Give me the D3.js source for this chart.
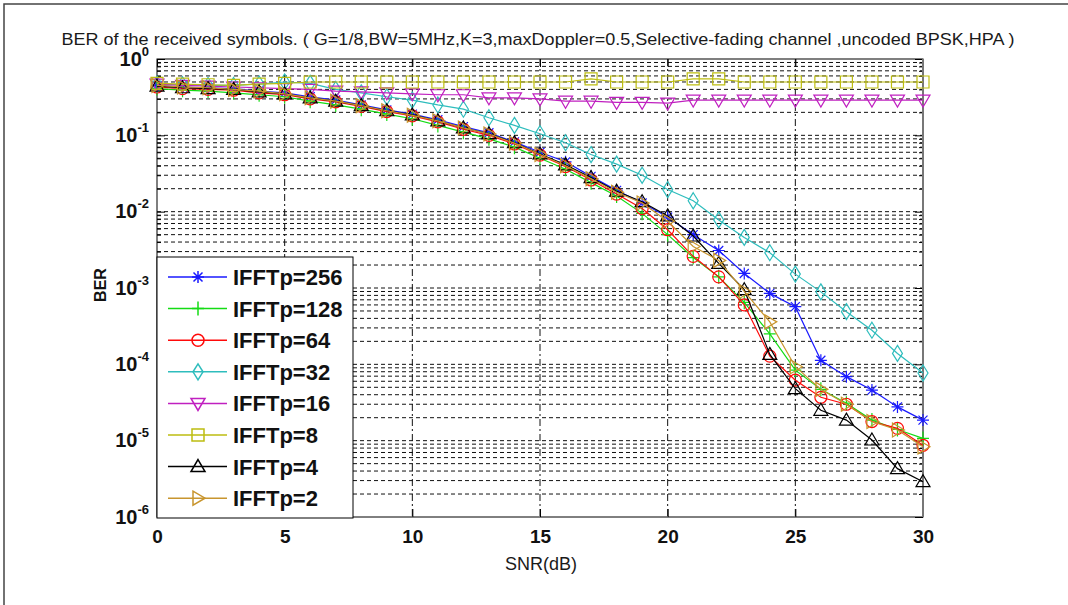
<!DOCTYPE html>
<html lang="en">
<head>
<meta charset="UTF-8">
<title>BER of the received symbols</title>
<style>
    body { margin: 0; background: #fff; }
    .tick_label { font-family: "Liberation Sans", Arial, sans-serif; font-weight: bold; font-size: 19px; fill: #111; }
    .legend_text { font-family: "Liberation Sans", Arial, sans-serif; font-weight: bold; font-size: 22px; fill: #111; }
</style>
<script src="https://cdn.jsdelivr.net/npm/d3@7"></script>
</head>
<body>
<svg width="1068" height="605"></svg>
<script>

    // SNR values on the x axis (dB)
    const snr = [0,1,2,3,4,5,6,7,8,9,10,11,12,13,14,15,16,17,18,19,20,21,22,23,24,25,26,27,28,29,30];

    // BER, one array per IFFT size
    const ber256 = [0.45,0.43,0.42,0.41,0.38,0.36,0.32,0.29,0.25,0.215,0.19,0.16,0.13,0.108,0.082,0.06,0.045,0.029,0.019,0.013,0.0085,0.005,0.0031,0.00155,0.00085,0.00057,0.000113,0.000069,0.000046,0.0000277,0.0000186];
    const ber128 = [0.41,0.39,0.38,0.36,0.34,0.32,0.28,0.25,0.22,0.19,0.165,0.135,0.11,0.09,0.07,0.05,0.036,0.024,0.016,0.0095,0.005,0.0025,0.0014,0.00065,0.00025,0.000084,0.000047,0.000031,0.0000186,0.000014,0.0000107];
    const ber64  = [0.43,0.41,0.40,0.39,0.36,0.34,0.30,0.275,0.24,0.205,0.18,0.15,0.12,0.1,0.077,0.055,0.039,0.026,0.017,0.011,0.0058,0.0026,0.0014,0.0006,0.000128,0.000062,0.000037,0.00003,0.0000178,0.0000145,0.0000087];
    const ber32  = [0.47,0.46,0.45,0.45,0.47,0.5,0.48,0.4,0.36,0.32,0.29,0.25,0.22,0.17,0.135,0.105,0.08,0.056,0.042,0.03,0.0195,0.0139,0.0078,0.0046,0.0029,0.00152,0.00089,0.00049,0.00028,0.000139,0.000077];
    const ber16  = [0.47,0.45,0.44,0.43,0.42,0.41,0.40,0.38,0.37,0.36,0.35,0.34,0.34,0.31,0.31,0.30,0.28,0.28,0.27,0.27,0.265,0.29,0.29,0.29,0.29,0.29,0.29,0.29,0.29,0.29,0.29];
    const ber8   = [0.48,0.47,0.46,0.45,0.47,0.48,0.5,0.5,0.5,0.5,0.5,0.5,0.5,0.5,0.5,0.5,0.5,0.55,0.5,0.5,0.5,0.55,0.55,0.5,0.5,0.5,0.5,0.5,0.5,0.5,0.5];
    const ber4   = [0.44,0.42,0.41,0.40,0.37,0.35,0.31,0.28,0.245,0.21,0.185,0.155,0.125,0.105,0.08,0.057,0.041,0.028,0.0185,0.0135,0.0088,0.0048,0.0021,0.00095,0.000135,0.000048,0.000025,0.0000186,0.0000102,0.0000043,0.0000029];
    const ber2   = [0.45,0.43,0.42,0.40,0.38,0.35,0.31,0.28,0.245,0.21,0.183,0.155,0.125,0.104,0.079,0.056,0.04,0.027,0.018,0.013,0.0075,0.0035,0.0023,0.0009,0.00036,0.000093,0.000047,0.00003,0.0000178,0.0000138,0.0000083];

    const seriesNames = ["IFFTp=256","IFFTp=128","IFFTp=64","IFFTp=32","IFFTp=16","IFFTp=8","IFFTp=4","IFFTp=2"];
    const seriesValues = [ber256, ber128, ber64, ber32, ber16, ber8, ber4, ber2];
    const seriesColors = ["#1a1aff","#14dc14","#ff0a0a","#2ebdbd","#c020c0","#bdbd10","#000000","#c8952e"];
    const seriesMarkers = ["star","plus","circle","diamond","tridown","square","triup","triright"];

    const xTicks = [0,5,10,15,20,25,30];
    const yMajor = [1,1e-1,1e-2,1e-3,1e-4,1e-5,1e-6];

    let svg = d3.select("svg");

    let x = d3.scaleLinear().domain([0,30]).range([157,923]);
    let y = d3.scaleLog().domain([1,1e-6]).range([59,517]);

    // minor log values 2..9 in each decade
    let yMinor = [];
    yMajor.slice(1).forEach(function (d) {
        for (let k = 2; k <= 9; k++) yMinor.push(d*k);
    });

    // outer frame of the figure
    svg.append("path").attr("d","M4,605V4H1068").attr("fill","none")
        .attr("stroke","#444").attr("stroke-width",1.5);

    svg.append("text")
        .attr("x",538).attr("y",45)
        .attr("text-anchor","middle")
        .attr("font-family","'Liberation Sans', Arial, sans-serif")
        .attr("font-size",17).attr("fill","#1a1a1a")
        .attr("textLength",953).attr("lengthAdjust","spacingAndGlyphs")
        .text("BER of the received symbols. ( G=1/8,BW=5MHz,K=3,maxDoppler=0.5,Selective-fading channel ,uncoded BPSK,HPA )");

    // grid
    let grid = svg.append("g").attr("stroke","#111").attr("stroke-width",1).attr("fill","none");
    grid.selectAll(".hgrid").data(yMajor.concat(yMinor).filter(function(d){return d<1 && d>1e-6;}))
        .enter().append("line")
        .attr("x1",157).attr("x2",923)
        .attr("y1",function(d){return y(d);}).attr("y2",function(d){return y(d);})
        .attr("stroke-dasharray","4,3");
    grid.selectAll(".vgrid").data(xTicks.slice(1,-1))
        .enter().append("line")
        .attr("x1",function(d){return x(d);}).attr("x2",function(d){return x(d);})
        .attr("y1",59).attr("y2",517)
        .attr("stroke-dasharray","7,3,2,3");

    // axes, ticks pointing inwards
    let gx = svg.append("g").attr("transform","translate(0,517)")
        .call(d3.axisBottom(x).tickValues(xTicks).tickSizeInner(-8).tickSizeOuter(0).tickPadding(13));
    gx.selectAll("text").attr("class","tick_label").attr("font-size",null).attr("font-family",null);
    svg.append("g").attr("transform","translate(0,59)")
        .call(d3.axisTop(x).tickValues(xTicks).tickSizeInner(-8).tickSizeOuter(0).tickFormat(""));

    let gy = svg.append("g").attr("transform","translate(157,0)")
        .call(d3.axisLeft(y).tickValues(yMajor).tickSizeInner(-8).tickSizeOuter(0).tickFormat(""));
    svg.append("g").attr("transform","translate(157,0)")
        .call(d3.axisLeft(y).tickValues(yMinor).tickSizeInner(-4).tickSizeOuter(0).tickFormat(""));
    svg.append("g").attr("transform","translate(923,0)")
        .call(d3.axisRight(y).tickValues(yMajor).tickSizeInner(-8).tickSizeOuter(0).tickFormat(""));
    svg.append("g").attr("transform","translate(923,0)")
        .call(d3.axisRight(y).tickValues(yMinor).tickSizeInner(-4).tickSizeOuter(0).tickFormat(""));
    svg.selectAll(".domain").remove();

    // y labels as 10 with superscript exponent
    gy.selectAll(".tick").each(function (d) {
        let t = d3.select(this).append("text")
            .attr("x",-8).attr("y",6).attr("fill","#111")
            .attr("text-anchor","end")
            .attr("font-family","'Liberation Sans', Arial, sans-serif")
            .attr("font-weight","bold");
        t.append("tspan").attr("font-size",20).text("10");
        t.append("tspan").attr("font-size",13).attr("dy",-10).text(Math.round(Math.log10(d)));
    });

    // box
    svg.append("rect").attr("x",157).attr("y",59).attr("width",766).attr("height",458)
        .attr("fill","none").attr("stroke","#000").attr("stroke-width",1);
    svg.append("line").attr("x1",923).attr("x2",923).attr("y1",59).attr("y2",517)
        .attr("stroke","#777").attr("stroke-width",2);

    svg.append("text")
        .attr("transform","translate(106,285)rotate(-90)")
        .attr("text-anchor","middle")
        .attr("font-family","'Liberation Sans', Arial, sans-serif")
        .attr("font-weight","bold").attr("font-size",16).attr("fill","#111")
        .text("BER");
    svg.append("text")
        .attr("x",541).attr("y",570)
        .attr("text-anchor","middle")
        .attr("font-family","'Liberation Sans', Arial, sans-serif")
        .attr("font-size",18).attr("fill","#1a1a1a")
        .text("SNR(dB)");

    function markerPath(type) {
        switch (type) {
            case "star": return "M-6,0H6M0,-6V6M-4.5,-4.5L4.5,4.5M-4.5,4.5L4.5,-4.5";
            case "plus": return "M-6,0H6M0,-7V7";
            case "circle": return "M6,0A6,6 0 1,1 -6,0A6,6 0 1,1 6,0Z";
            case "diamond": return "M0,-8L5,0L0,8L-5,0Z";
            case "tridown": return "M-7,-5H7L0,7Z";
            case "square": return "M-6,-6H6V6H-6Z";
            case "triup": return "M0,-7L7,5H-7Z";
            case "triright": return "M-5,-7L7,0L-5,7Z";
        }
    }

    let line = d3.line()
        .x(function (d,i) { return x(snr[i]); })
        .y(function (d) { return y(d); });

    seriesValues.forEach(function (vals, s) {
        let g = svg.append("g").attr("class","series");
        g.append("path").attr("d",line(vals)).attr("fill","none")
            .attr("stroke",seriesColors[s]).attr("stroke-width",1.2);
        g.selectAll("path.mk").data(vals).enter().append("path").attr("class","mk")
            .attr("transform",function (d,i) { return `translate(${x(snr[i])},${y(d)})`; })
            .attr("d",markerPath(seriesMarkers[s]))
            .attr("fill","none").attr("stroke",seriesColors[s]).attr("stroke-width",1.2);
    });

    // legend
    let legend = svg.append("g").attr("class","legend");
    legend.append("rect").attr("x",157).attr("y",257).attr("width",196).attr("height",261)
        .attr("fill","#fff").attr("stroke","#000").attr("stroke-width",1);
    let rows = legend.selectAll(".row").data(seriesNames).enter().append("g")
        .attr("transform",function (d,i) { return `translate(0,${277 + i*31.6})`; });
    rows.append("line").attr("x1",168).attr("x2",227).attr("y1",0).attr("y2",0)
        .attr("stroke",function (d,i) { return seriesColors[i]; }).attr("stroke-width",1.5);
    rows.append("path").attr("transform","translate(198,0)")
        .attr("d",function (d,i) { return markerPath(seriesMarkers[i]); })
        .attr("fill","none").attr("stroke",function (d,i) { return seriesColors[i]; }).attr("stroke-width",1.5);
    rows.append("text").attr("class","legend_text").attr("x",233).attr("y",8).text(function (d) { return d; });

</script>
</body>
</html>
